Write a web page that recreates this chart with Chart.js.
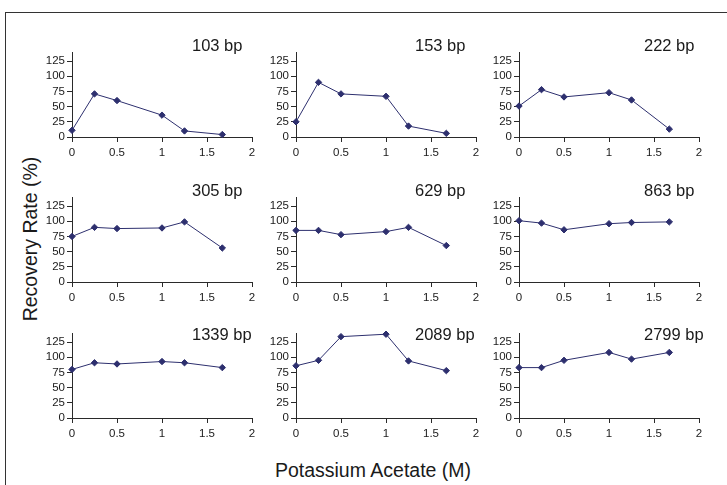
<!DOCTYPE html>
<html>
<head>
<meta charset="utf-8">
<script src="https://cdn.jsdelivr.net/npm/chart.js@4"></script>
<style>
  body { margin: 0; background: #fff; }
  #wrap { position: relative; width: 727px; height: 485px; overflow: hidden; font-family: "Liberation Sans", Arial, sans-serif; color: #1a1a1a; }
  #frame { position: absolute; left: 5px; top: 12px; width: 740px; height: 490px; border-left: 1px solid #333; border-top: 1px solid #333; }
  canvas { position: absolute; }
  .ylab { position: absolute; left: 30px; top: 239px; font-size: 19.5px; white-space: nowrap; transform: translate(-50%, -50%) rotate(-90deg); }
  .xlab { position: absolute; left: 373px; top: 470px; font-size: 19.5px; white-space: nowrap; transform: translate(-50%, -50%); }
</style>
</head>
<body>
<div id="wrap">
  <div id="frame"></div>
  <div class="ylab">Recovery Rate (%)</div>
  <div class="xlab">Potassium Acetate (M)</div>
</div>
<script>
// potassium acetate concentration (M)
var kac = [0, 0.25, 0.5, 1, 1.25, 1.67];
var xTicks = [0, 0.5, 1, 1.5, 2];
var yTicks = [0, 25, 50, 75, 100, 125];

var titles = ['103 bp', '153 bp', '222 bp', '305 bp', '629 bp', '863 bp', '1339 bp', '2089 bp', '2799 bp'];

// recovery rate (%)
var bp103 = [11, 71, 60, 36, 10, 4];
var bp153 = [25, 90, 71, 67, 18, 6];
var bp222 = [51, 78, 66, 73, 61, 13];
var bp305 = [75, 90, 88, 89, 99, 56];
var bp629 = [85, 85, 78, 83, 90, 60];
var bp863 = [101, 97, 86, 96, 98, 99];
var bp1339 = [80, 91, 89, 93, 91, 83];
var bp2089 = [86, 95, 134, 138, 94, 78];
var bp2799 = [83, 83, 95, 108, 97, 108];

var series = [bp103, bp153, bp222, bp305, bp629, bp863, bp1339, bp2089, bp2799];

var colLeft = [72, 296, 519];
var rowTop = [52, 197, 333];
var titleDx = [120, 119, 125];
var titleDy = [-1, -1, 7];

var navy = '#2d2f6e';
var axisCol = '#2a2a2a';
var fontFam = '"Liberation Sans", Arial, sans-serif';

var panelTitle = {
    id: 'panelTitle',
    afterDraw: function (chart, args, opts) {
        var ctx = chart.ctx;
        ctx.save();
        ctx.font = '16.5px ' + fontFam;
        ctx.fillStyle = '#1a1a1a';
        ctx.textAlign = 'left';
        ctx.textBaseline = 'alphabetic';
        ctx.fillText(opts.text, chart.chartArea.left + opts.dx, chart.chartArea.top + opts.dy);
        ctx.restore();
    }
};

var wrap = document.getElementById('wrap');

for (let i = 0; i < series.length; i++) {
    var row = Math.floor(i / 3), col = i % 3;
    var cv = document.createElement('canvas');
    cv.width = 244;
    cv.height = 137;
    cv.style.left = (colLeft[col] - 50) + 'px';
    cv.style.top = (rowTop[row] - 22) + 'px';
    wrap.appendChild(cv);

    var pts = [];
    for (let j = 0; j < kac.length; j++) {
        pts.push({ x: kac[j], y: series[i][j] });
    }

    new Chart(cv, {
        type: 'line',
        data: {
            datasets: [{
                data: pts,
                borderColor: navy,
                backgroundColor: navy,
                borderWidth: 1,
                pointStyle: 'rectRot',
                pointRadius: 3.2,
                pointBorderWidth: 1,
                pointBackgroundColor: navy,
                pointBorderColor: navy,
                tension: 0,
                clip: false
            }]
        },
        options: {
            responsive: false,
            animation: false,
            events: [],
            layout: { padding: { left: 0, top: 22, right: 14, bottom: 0 } },
            plugins: {
                legend: { display: false },
                tooltip: { enabled: false },
                panelTitle: { text: titles[i], dx: titleDx[col], dy: titleDy[row] }
            },
            scales: {
                x: {
                    type: 'linear',
                    min: 0,
                    max: 2,
                    afterFit: function (s) { s.height = 30; },
                    afterBuildTicks: function (s) { s.ticks = xTicks.map(function (v) { return { value: v }; }); },
                    grid: { drawOnChartArea: false, tickLength: 5, color: axisCol },
                    border: { color: axisCol, width: 1 },
                    ticks: {
                        color: '#1a1a1a', padding: 4, maxRotation: 0,
                        font: { size: 11.5, family: fontFam },
                        callback: function (v) { return String(v); }
                    }
                },
                y: {
                    min: 0,
                    max: 140,
                    afterFit: function (s) { s.width = 50; },
                    afterBuildTicks: function (s) { s.ticks = yTicks.map(function (v) { return { value: v }; }); },
                    grid: { drawOnChartArea: false, tickLength: 5, color: axisCol },
                    border: { color: axisCol, width: 1 },
                    ticks: { color: '#1a1a1a', padding: 2, font: { size: 11.5, family: fontFam } }
                }
            }
        },
        plugins: [panelTitle]
    });
}
</script>
</body>
</html>
